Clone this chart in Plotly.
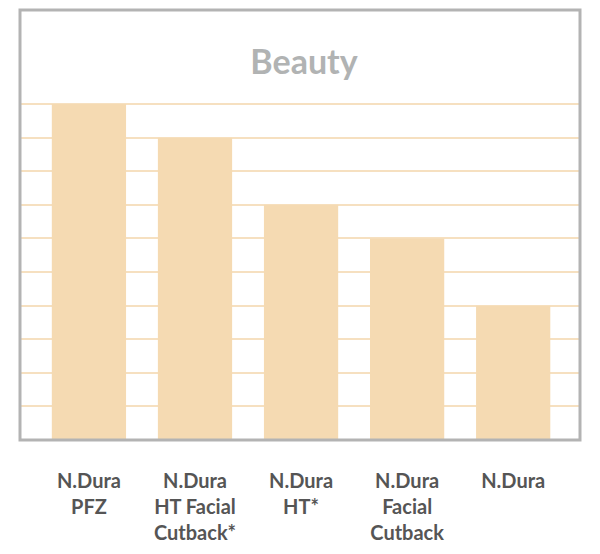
import plotly.graph_objects as go

# products and scores
products = ['N.Dura<br>PFZ', 'N.Dura<br>HT Facial<br>Cutback*', 'N.Dura<br>HT*',
            'N.Dura<br>Facial<br>Cutback', 'N.Dura']
scores = [10, 9, 7, 6, 4]
grid_values = list(range(0, 11))
title_text = 'Beauty'

fig = go.Figure(go.Bar(
    x=list(range(len(products))),
    y=scores,
    width=0.7,
    marker=dict(color='#f5dab2', line=dict(width=0)),
    hoverinfo='skip'
))

# page body adds an 8px offset, so the figure is a bit smaller than the window
fig.update_layout(
    width=592, height=546,
    margin=dict(l=12, r=20, t=2, b=114),
    paper_bgcolor='white',
    plot_bgcolor='white',
    showlegend=False,
    font=dict(family='Lato, sans-serif', color='#555555'),
    title=dict(
        text='<b>' + title_text + '</b>',
        font=dict(size=34, color='#b1b3b3'),
        x=0.5, xanchor='center',
        y=0.901, yanchor='middle'
    )
)

fig.update_xaxes(
    range=[-0.65, 4.63],
    tickvals=list(range(len(products))),
    ticktext=['<b>' + p + '</b>' for p in products],
    tickfont=dict(size=20, color='#555555'),
    ticks='', showgrid=False, zeroline=False, showline=False,
    ticklabelstandoff=27
)
fig.update_yaxes(
    range=[0, 12.8],
    tickmode='array', tickvals=grid_values,
    showticklabels=False, ticks='',
    showgrid=True, gridcolor='#f6e0c0', gridwidth=2,
    zeroline=False, showline=False
)

# grey frame around the plot area
fig.add_shape(type='rect', xref='paper', yref='paper', x0=0, y0=0, x1=1, y1=1,
              line=dict(color='#b3b3b3', width=3), layer='above')

fig.write_html('out.html')
